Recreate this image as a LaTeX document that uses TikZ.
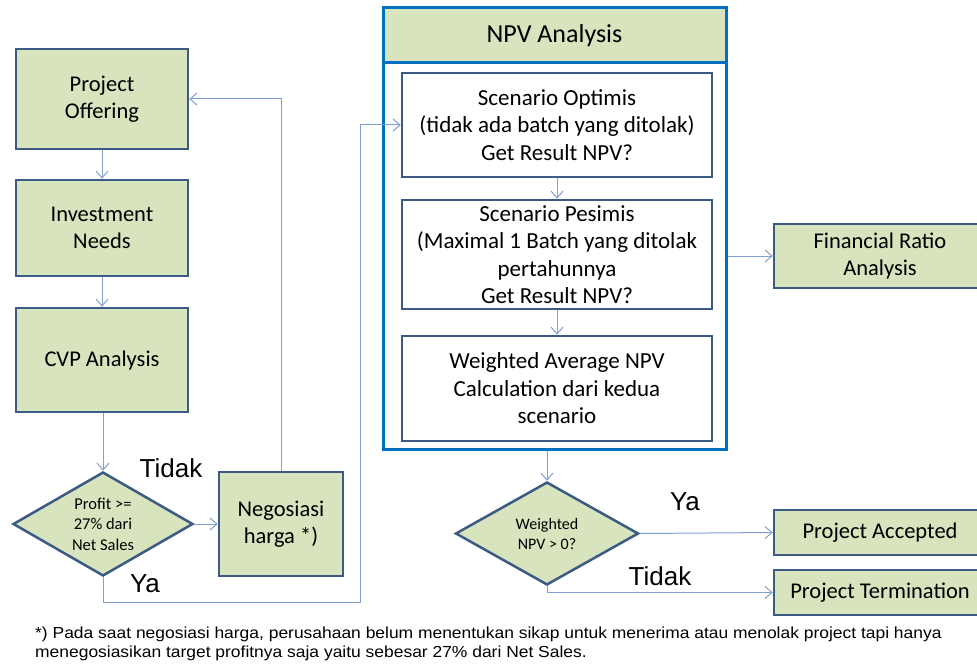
\documentclass[tikz,border=0pt]{standalone}
\usepackage{fontspec}
\setmainfont{Carlito}
\newfontfamily\arialf{Liberation Sans}
\newfontfamily\notef[FakeStretch=1.09]{Liberation Sans}
\usetikzlibrary{arrows.meta,shapes.geometric,calc}
\definecolor{boxfill}{HTML}{D7E4BD}
\definecolor{boxline}{HTML}{3B5A84}
\definecolor{arr}{HTML}{7FA0D0}
\definecolor{npvblue}{HTML}{0070C0}
\begin{document}
\begin{tikzpicture}[x=1pt,y=-1pt,
  gbox/.style={draw=boxline,line width=2.5pt,fill=boxfill,align=center,inner sep=0pt,font=\fontsize{22.5}{27}\selectfont},
  wbox/.style={draw=boxline,line width=2.5pt,fill=white,align=center,inner sep=0pt,font=\fontsize{23}{27.5}\selectfont},
  dia/.style={draw=boxline,line width=2.5pt,fill=boxfill,diamond,inner sep=0pt},
  dtext/.style={align=center,inner sep=0pt,font=\fontsize{16.5}{20.5}\selectfont},
  conn/.style={draw=arr,line width=1pt,-{Straight Barb[length=7pt,width=12pt]}},
  lab/.style={font=\arialf\fontsize{26}{26}\selectfont,inner sep=0pt}]
\useasboundingbox (0,0) rectangle (977,666);
% left column
\node[gbox,minimum width=172pt,minimum height=100pt] (po) at (102,99) {Project\\Offering};
\node[gbox,minimum width=172pt,minimum height=96pt] (inv) at (102,228) {Investment\\Needs};
\node[gbox,minimum width=172pt,minimum height=104pt] (cvp) at (102,360) {CVP Analysis};
\node[dia,minimum width=180pt,minimum height=104pt] (d1) at (103,524) {};
\node[dtext] (d1t) at (103,524) {Profit >=\\27\% dari\\Net Sales};
\node[gbox,minimum width=124pt,minimum height=104pt] (neg) at (281,524) {Negosiasi\\harga *)};
% NPV block
\node[draw=npvblue,line width=3pt,minimum width=343pt,minimum height=441pt,inner sep=0pt] (npv) at (554.5,228.5) {};
\node[draw=npvblue,line width=3pt,fill=boxfill,minimum width=343pt,minimum height=55pt,inner sep=0pt,font=\fontsize{26}{30}\selectfont] (hdr) at (554.5,35.5) {NPV Analysis};
\node[wbox,minimum width=310pt,minimum height=104pt] (so) at (557,125) {Scenario Optimis\\(tidak ada batch yang ditolak)\\Get Result NPV?};
\node[wbox,minimum width=310pt,minimum height=109pt] (sp) at (557,254.5) {Scenario Pesimis\\(Maximal 1 Batch yang ditolak\\pertahunnya\\Get Result NPV?};
\node[wbox,minimum width=310pt,minimum height=105pt] (wa) at (557,388.5) {Weighted Average NPV\\Calculation dari kedua\\scenario};
% right column
\node[gbox,minimum width=212pt,minimum height=64pt] (fr) at (880,256) {Financial Ratio\\Analysis};
\node[dia,minimum width=183pt,minimum height=103pt] (d2) at (547,533.5) {};
\node[dtext,font=\fontsize{16}{20}\selectfont] (d2t) at (547,533.5) {Weighted\\NPV > 0?};
\node[gbox,minimum width=212pt,minimum height=45pt] (pa) at (880,532.5) {Project Accepted};
\node[gbox,minimum width=212pt,minimum height=45pt] (pt) at (880,592.5) {Project Termination};
% labels
\node[lab] (l1) at (171,468) {Tidak};
\node[lab] (l2) at (145,584) {Ya};
\node[lab] (l3) at (685,502) {Ya};
\node[lab] (l4) at (660,576) {Tidak};
% connectors
\draw[conn] (po) -- (inv);
\draw[conn] (inv) -- (cvp);
\draw[conn] (d1.north |- cvp.south) -- (d1.north);
\draw[conn] (d1.east) -- (neg.west);
\draw[conn] (neg.north) |- (po.east);
\coordinate (c1) at (360,602);
\draw[conn] (d1.south) |- (c1) |- (so.west);
\draw[conn] (so) -- (sp);
\draw[conn] (sp) -- (wa);
\draw[conn] (npv.east |- fr.west) -- (fr.west);
\draw[conn] (d2.north |- npv.south) -- (d2.north);
\draw[conn] (d2.east) -- (pa.west);
\draw[conn] (d2.south) |- (pt.west);
% footnote
\node[anchor=base west,align=left,inner sep=0pt,font=\notef\fontsize{16}{19}\selectfont] (fn) at (35,657) {*) Pada saat negosiasi harga, perusahaan belum menentukan sikap untuk menerima atau menolak project tapi hanya\\menegosiasikan target profitnya saja yaitu sebesar 27\% dari Net Sales.};
\end{tikzpicture}
\end{document}
